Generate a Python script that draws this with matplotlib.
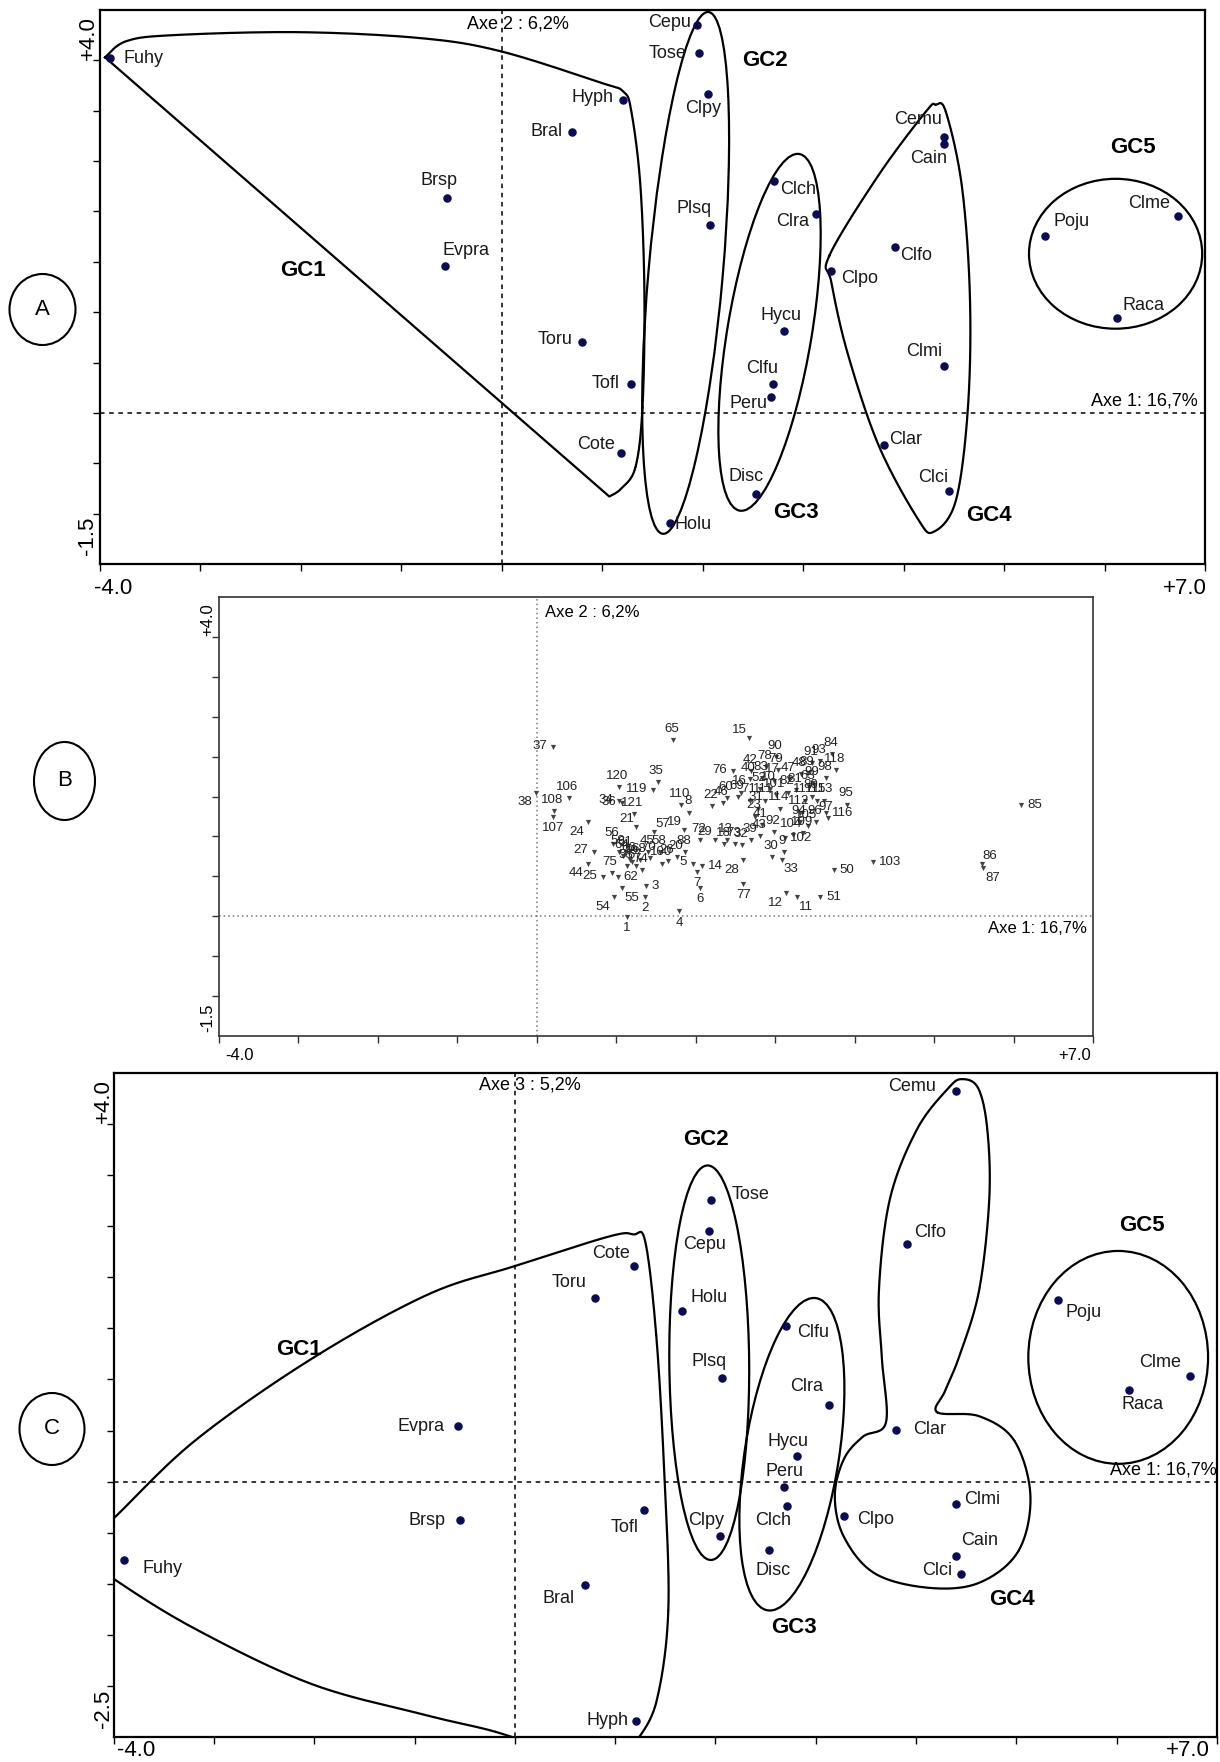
import numpy as np
import matplotlib.pyplot as plt
from matplotlib.patches import Ellipse

plt.rcParams['font.family'] = ['Liberation Sans', 'DejaVu Sans']

W, H = 1220, 1762

# ---- species scores (panels A and C share axis 1) ----
species = ['Fuhy', 'Bral', 'Brsp', 'Evpra', 'Toru', 'Hyph', 'Tofl', 'Cote', 'Cepu', 'Tose',
           'Clpy', 'Plsq', 'Holu', 'Clch', 'Clra', 'Hycu', 'Clfu', 'Peru', 'Disc', 'Clpo',
           'Clfo', 'Cemu', 'Cain', 'Clmi', 'Clar', 'Clci', 'Poju', 'Clme', 'Raca']
axis1 = [-3.90, 0.70, -0.55, -0.57, 0.80, 1.21, 1.29, 1.19, 1.94, 1.96,
         2.05, 2.07, 1.67, 2.71, 3.13, 2.81, 2.70, 2.68, 2.53, 3.28,
         3.91, 4.40, 4.40, 4.40, 3.80, 4.45, 5.41, 6.73, 6.12]
axis2 = [3.52, 2.79, 2.13, 1.46, 0.70, 3.11, 0.29, -0.40, 3.85, 3.57,
         3.17, 1.87, -1.09, 2.30, 1.97, 0.81, 0.29, 0.16, -0.81, 1.41,
         1.65, 2.74, 2.67, 0.47, -0.32, -0.78, 1.76, 1.95, 0.94]
axis3 = [-0.77, -1.01, -0.38, 0.54, 1.80, -2.34, -0.28, 2.11, 2.45, 2.76,
         -0.53, 1.01, 1.67, -0.24, 0.75, 0.25, 1.52, -0.05, -0.67, -0.34,
         2.33, 3.82, -0.73, -0.22, 0.51, -0.90, 1.78, 1.03, 0.90]

# ---- sample scores (panel B) ----
samples = list(range(1, 122))
b_axis1 = [1.13, 1.36, 1.37, 1.79, 1.96, 2.05, 2.01, 1.92, 3.11, 2.93,
           3.27, 3.14, 2.39, 2.08, 2.67, 2.57, 2.98, 2.36, 1.85, 1.77,
           1.25, 2.20, 2.75, 0.64, 0.83, 1.65, 0.72, 2.59, 2.24, 2.96,
           2.78, 2.58, 3.08, 1.03, 1.52, 1.07, 0.20, -0.01, 2.70, 2.68,
           2.83, 2.70, 2.81, 0.64, 1.40, 2.34, 3.18, 3.32, 1.20, 3.74,
           3.57, 2.81, 1.14, 0.97, 1.07, 0.96, 1.48, 1.55, 1.04, 2.39,
           1.12, 1.02, 3.43, 1.09, 1.71, 1.17, 1.25, 1.30, 2.53, 1.42,
           2.68, 2.05, 2.49, 1.32, 0.94, 2.47, 2.60, 2.88, 3.03, 3.46,
           3.26, 3.16, 2.84, 3.72, 6.10, 5.60, 5.61, 1.87, 3.41, 3.01,
           3.46, 2.99, 3.57, 3.31, 3.91, 3.51, 3.66, 3.64, 3.48, 1.58,
           3.01, 3.12, 4.23, 3.22, 3.41, 0.40, 0.20, 0.21, 3.35, 1.82,
           2.87, 3.31, 3.62, 3.06, 3.53, 3.64, 3.38, 3.76, 1.46, 1.03,
           1.22]
b_axis2 = [-0.01, 0.24, 0.38, 0.06, 0.66, 0.35, 0.55, 1.30, 0.80, 1.60,
           0.24, 0.29, 0.95, 0.63, 2.23, 1.55, 1.70, 0.91, 1.08, 0.74,
           1.12, 1.38, 1.25, 1.18, 0.49, 0.69, 0.81, 0.70, 0.95, 0.74,
           1.35, 0.89, 0.71, 1.44, 1.68, 1.42, 2.12, 1.55, 0.95, 1.72,
           1.14, 1.82, 1.00, 0.66, 0.80, 1.42, 1.72, 1.78, 0.68, 0.58,
           0.24, 1.59, 0.63, 0.24, 0.35, 0.91, 1.05, 0.80, 0.81, 1.48,
           0.79, 0.49, 1.62, 0.75, 2.21, 0.71, 0.63, 0.70, 1.49, 0.73,
           1.45, 0.95, 0.91, 0.58, 0.54, 1.82, 0.41, 1.87, 1.83, 1.50,
           1.58, 1.55, 1.73, 2.03, 1.40, 0.65, 0.60, 0.81, 1.79, 2.00,
           1.92, 1.05, 1.95, 1.18, 1.40, 1.18, 1.23, 1.73, 1.67, 0.66,
           1.52, 0.98, 0.68, 1.02, 1.13, 1.48, 1.24, 1.32, 1.04, 1.39,
           1.45, 1.30, 1.45, 1.35, 1.45, 1.30, 1.45, 1.83, 1.58, 1.62,
           1.28]

# label placement (offset in points, horizontal alignment)
lab_a = {'Fuhy': (9.4, 0, 'left'), 'Bral': (-7.2, 0, 'right'), 'Brsp': (-5.8, 13, 'center'),
         'Evpra': (-1.4, 10.8, 'left'), 'Toru': (-7.2, 2.2, 'right'), 'Hyph': (-7.2, 1.4, 'right'),
         'Tofl': (-8.6, 0, 'right'), 'Cote': (-4.3, 6.5, 'right'), 'Cepu': (-4.3, 2.2, 'right'),
         'Tose': (-9, 0, 'right'), 'Clpy': (-3.6, -10.8, 'center'), 'Plsq': (-11.5, 11.5, 'center'),
         'Holu': (3.6, -1.4, 'left'), 'Clch': (4.3, -5.8, 'left'), 'Clra': (-5, -5, 'right'),
         'Hycu': (-2.2, 11.5, 'center'), 'Clfu': (-7.9, 10.8, 'center'), 'Peru': (-2.9, -5, 'right'),
         'Disc': (-7.2, 13, 'center'), 'Clpo': (7.2, -5.8, 'left'), 'Clfo': (4.3, -6.5, 'left'),
         'Cemu': (-18.7, 12.2, 'center'), 'Cain': (-10.8, -10.8, 'center'),
         'Clmi': (-14.4, 10, 'center'), 'Clar': (4.3, 4.3, 'left'), 'Clci': (-11.5, 10, 'center'),
         'Poju': (5.8, 10, 'left'), 'Clme': (-20.9, 9.4, 'center'), 'Raca': (19.4, 9.4, 'center')}
lab_c = {'Fuhy': (13.7, -5.6, 'left'), 'Bral': (-19.4, -10, 'center'), 'Brsp': (-10.4, 0, 'right'),
         'Evpra': (-9.8, 0, 'right'), 'Toru': (-19, 10.8, 'center'), 'Hyph': (-5.8, 0, 'right'),
         'Tofl': (-4.3, -12.2, 'right'), 'Cote': (-2.9, 9.4, 'right'), 'Cepu': (-3.4, -9.4, 'center'),
         'Tose': (14.4, 3.6, 'left'), 'Clpy': (-10, 10.8, 'center'), 'Plsq': (-9.4, 12.2, 'center'),
         'Holu': (6.2, 9.4, 'left'), 'Clch': (-9.8, -10, 'center'), 'Clra': (-15.8, 13, 'center'),
         'Hycu': (-6.5, 10.8, 'center'), 'Clfu': (8.4, -4.3, 'left'), 'Peru': (0.6, 10.8, 'center'),
         'Disc': (3.4, -14.4, 'center'), 'Clpo': (9.2, -2.2, 'left'), 'Clfo': (4.8, 7.9, 'left'),
         'Cemu': (-14.4, 3.6, 'right'), 'Cain': (3.4, 11.2, 'left'), 'Clmi': (5.6, 3.3, 'left'),
         'Clar': (12.2, 0, 'left'), 'Clci': (-6.5, 2.2, 'right'), 'Poju': (5.6, -8.9, 'left'),
         'Clme': (-21.6, 10, 'center'), 'Raca': (9.8, -10.6, 'center')}
pos_codes = {'a': (-1, 8, 'center'), 'b': (0, -8, 'center'), 'l': (-4, 1, 'right'),
             'r': (4, 0, 'left'), 'al': (-7, 6, 'center'), 'ar': (6, 6, 'center'),
             'bl': (-8, -7, 'center'), 'br': (7, -7, 'center')}
lab_b = {1: 'b', 2: 'b', 3: 'r', 4: 'b', 5: 'l', 6: 'b', 7: 'b', 11: 'br', 12: 'bl', 14: 'r',
         15: 'al', 19: 'al', 21: 'al', 24: 'bl', 25: 'l', 27: 'l', 28: 'bl', 29: 'al', 33: 'br',
         34: 'l', 36: 'l', 37: 'l', 38: 'bl', 44: 'bl', 50: 'r', 51: 'r', 54: 'bl', 55: 'br',
         57: 'ar', 62: 'r', 76: 'l', 77: 'b', 85: 'r', 86: 'ar', 87: 'br', 102: 'r', 103: 'r',
         107: 'b', 116: 'r', 119: 'l'}

# group outlines (hand drawn envelopes)
gc1_a = [(-3.95, 3.53), (-3.74, 3.69), (-3.28, 3.75), (-2.02, 3.78), (-0.80, 3.72), (-0.01, 3.59),
         (0.98, 3.28), (1.21, 3.19), (1.29, 2.99), (1.38, 2.25), (1.42, 1.15), (1.40, 0.05),
         (1.33, -0.54), (1.19, -0.75), (1.07, -0.83)]
gc4_a = [(3.26, 1.56), (3.75, 2.36), (4.22, 2.99), (4.32, 3.06), (4.42, 2.99), (4.58, 2.25),
         (4.66, 1.15), (4.64, 0.05), (4.52, -0.87), (4.30, -1.18), (4.14, -1.05), (3.75, -0.32),
         (3.44, 0.60), (3.28, 1.30)]
gc1_c = [(0.40, -2.65), (-0.19, -2.45), (-0.87, -2.29), (-2.03, -1.98), (-3.19, -1.44), (-4.0, -0.95),
         (-4.35, -0.66), (-4.0, -0.36), (-3.19, 0.40), (-2.03, 1.20), (-0.87, 1.83), (0.0, 2.11),
         (0.94, 2.40), (1.18, 2.42), (1.30, 2.35), (1.41, 1.43), (1.49, 0.08), (1.53, -1.26),
         (1.41, -2.16), (1.20, -2.56)]
gc4_c = [(4.21, 0.68), (4.63, 0.64), (4.98, 0.40), (5.14, -0.14), (5.02, -0.68), (4.63, -0.99),
         (4.13, -1.04), (3.59, -0.90), (3.28, -0.54), (3.19, -0.14), (3.28, 0.22), (3.47, 0.44),
         (3.70, 0.58), (3.66, 1.20), (3.63, 1.88), (3.74, 2.77), (4.01, 3.45), (4.32, 3.85),
         (4.46, 3.94), (4.62, 3.85), (4.71, 3.45), (4.73, 2.77), (4.63, 1.88), (4.44, 1.25),
         (4.29, 0.89)]


def spline(pts, closed=True, n=24):
    P = np.asarray(pts, float)
    if closed:
        E = np.vstack([P[-1], P, P[0], P[1]])
    else:
        E = np.vstack([P[0], P, P[-1]])
    t = np.linspace(0, 1, n)[:, None]
    segs = []
    for i in range(1, len(E) - 2):
        p0, p1, p2, p3 = E[i - 1], E[i], E[i + 1], E[i + 2]
        segs.append(0.5 * (2 * p1 + (p2 - p0) * t + (2 * p0 - 5 * p1 + 4 * p2 - p3) * t ** 2
                           + (3 * p1 - p0 - 3 * p2 + p3) * t ** 3))
    return np.vstack(segs)


def frame(ax, ylim, yticks, lw, col, dash):
    ax.set_xlim(-4, 7)
    ax.set_ylim(*ylim)
    ax.set_xticks(np.arange(-4, 8, 1))
    ax.set_yticks(yticks)
    ax.set_xticklabels([])
    ax.set_yticklabels([])
    ax.tick_params(direction='out', length=5, width=1, colors=col)
    for s in ax.spines.values():
        s.set_linewidth(lw)
        s.set_color(col)
    ax.axhline(0, color=dash, lw=1.1, ls=(0, (3, 3)), zorder=1)
    ax.axvline(0, color=dash, lw=1.1, ls=(0, (3, 3)), zorder=1)


fig = plt.figure(figsize=(W / 100, H / 100), dpi=100)
axA = fig.add_axes([100 / W, 1 - 564 / H, 1105 / W, 554 / H])
axB = fig.add_axes([219 / W, 1 - 1036 / H, 874 / W, 439 / H])
axC = fig.add_axes([113.6 / W, 1 - 1737 / H, 1103.4 / W, 664 / H])

navy = '#0b0b55'
frame(axA, (-1.5, 4.0), np.arange(-1.0, 3.6, 0.5), 1.6, 'black', 'black')
frame(axC, (-2.5, 4.0), np.arange(-2.0, 3.6, 0.5), 1.6, 'black', 'black')
frame(axB, (-1.5, 4.0), np.arange(-1.0, 3.6, 0.5), 1.2, '#333333', '#777777')
axB.lines[-1].set_linestyle((0, (1, 2)))
axB.lines[-2].set_linestyle((0, (1, 2)))

# species panels
for ax, yv, labs in ((axA, axis2, lab_a), (axC, axis3, lab_c)):
    ax.scatter(axis1, yv, s=26, color=navy, zorder=3)
    for name, x, y in zip(species, axis1, yv):
        dx, dy, ha = labs[name]
        ax.annotate(name, (x, y), xytext=(dx, dy), textcoords='offset points',
                    ha=ha, va='center', fontsize=13, color='#1a1a1a')

# outlines A
ca = spline(gc1_a, closed=False)
ca = np.vstack([ca, ca[:1]])
axA.plot(ca[:, 0], ca[:, 1], color='black', lw=1.6, zorder=2)
c4 = spline(gc4_a)
axA.plot(c4[:, 0], c4[:, 1], color='black', lw=1.6, zorder=2)
for cx, cy, w, h, ang in ((1.83, 1.39, 5.20, 0.74, 85), (2.665, 0.80, 3.59, 0.84, 80.5),
                          (6.11, 1.58, 1.724, 1.488, 0)):
    axA.add_patch(Ellipse((cx, cy), w, h, angle=ang, fill=False, lw=1.6, color='black', zorder=2))

# outlines C
cc = spline(gc1_c, closed=False)
axC.plot(cc[:, 0], cc[:, 1], color='black', lw=1.6, zorder=2)
c4 = spline(gc4_c)
axC.plot(c4[:, 0], c4[:, 1], color='black', lw=1.6, zorder=2)
for cx, cy, w, h, ang in ((1.938, 1.164, 3.862, 0.796, 90.5), (2.762, 0.268, 3.094, 0.94, 81),
                          (6.015, 1.216, 1.792, 2.084, 0)):
    axC.add_patch(Ellipse((cx, cy), w, h, angle=ang, fill=False, lw=1.6, color='black', zorder=2))

gfont = dict(fontsize=16, fontweight='bold', ha='center', va='center')
for ax, txt in ((axA, [('GC1', -1.98, 1.41), ('GC2', 2.62, 3.50), ('GC3', 2.93, -0.99),
                       ('GC4', 4.85, -1.02), ('GC5', 6.28, 2.63)]),
                (axC, [('GC1', -2.15, 1.29), ('GC2', 1.91, 3.35), ('GC3', 2.78, -1.43),
                       ('GC4', 4.96, -1.15), ('GC5', 6.25, 2.51)])):
    for t, x, y in txt:
        ax.text(x, y, t, **gfont)

axA.text(0.16, 3.86, 'Axe 2 : 6,2%', ha='center', va='center', fontsize=13)
axA.text(6.93, 0.03, 'Axe 1: 16,7%', ha='right', va='bottom', fontsize=13)
axC.text(0.15, 3.88, 'Axe 3 : 5,2%', ha='center', va='center', fontsize=13)
axC.text(7.0, 0.03, 'Axe 1: 16,7%', ha='right', va='bottom', fontsize=13)

# samples panel
axB.scatter(b_axis1, b_axis2, marker='v', s=14, color='#444444', zorder=3, linewidths=0)
for n, x, y in zip(samples, b_axis1, b_axis2):
    dx, dy, ha = pos_codes[lab_b.get(n, 'a')]
    axB.annotate(str(n), (x, y), xytext=(dx, dy), textcoords='offset points',
                 ha=ha, va='center', fontsize=9.5, color='#222222')
axB.text(0.10, 3.81, 'Axe 2 : 6,2%', ha='left', va='center', fontsize=12)
axB.text(6.92, -0.06, 'Axe 1: 16,7%', ha='right', va='top', fontsize=12)

# overlay: panel letters and range labels
ov = fig.add_axes([0, 0, 1, 1])
ov.set_xlim(0, W)
ov.set_ylim(H, 0)
ov.axis('off')
ov.patch.set_alpha(0)
for letter, cx, cy, w, h in (('A', 42.5, 309.5, 66, 71), ('B', 64.5, 781, 61, 78), ('C', 52, 1429, 65, 72)):
    ov.add_patch(Ellipse((cx, cy), w, h, fill=False, lw=1.5, color='black'))
    ov.text(cx, cy, letter, ha='center', va='center', fontsize=16)
for txt, x, y, fs, rot in (('-4.0', 113, 588, 16, 0), ('+7.0', 1185, 588, 16, 0),
                           ('+4.0', 88, 38, 16, 90), ('-1.5', 88, 536, 16, 90),
                           ('-4.0', 240, 1056, 12, 0), ('+7.0', 1075, 1056, 12, 0),
                           ('+4.0', 208, 620, 12, 90), ('-1.5', 208, 1018, 12, 90),
                           ('-4.0', 136, 1750, 16, 0), ('+7.0', 1188, 1750, 16, 0),
                           ('+4.0', 103, 1101, 16, 90), ('-2.5', 103, 1709, 16, 90)):
    ov.text(x, y, txt, ha='center', va='center', fontsize=fs, rotation=rot)

fig.savefig('out.png', dpi=100)
